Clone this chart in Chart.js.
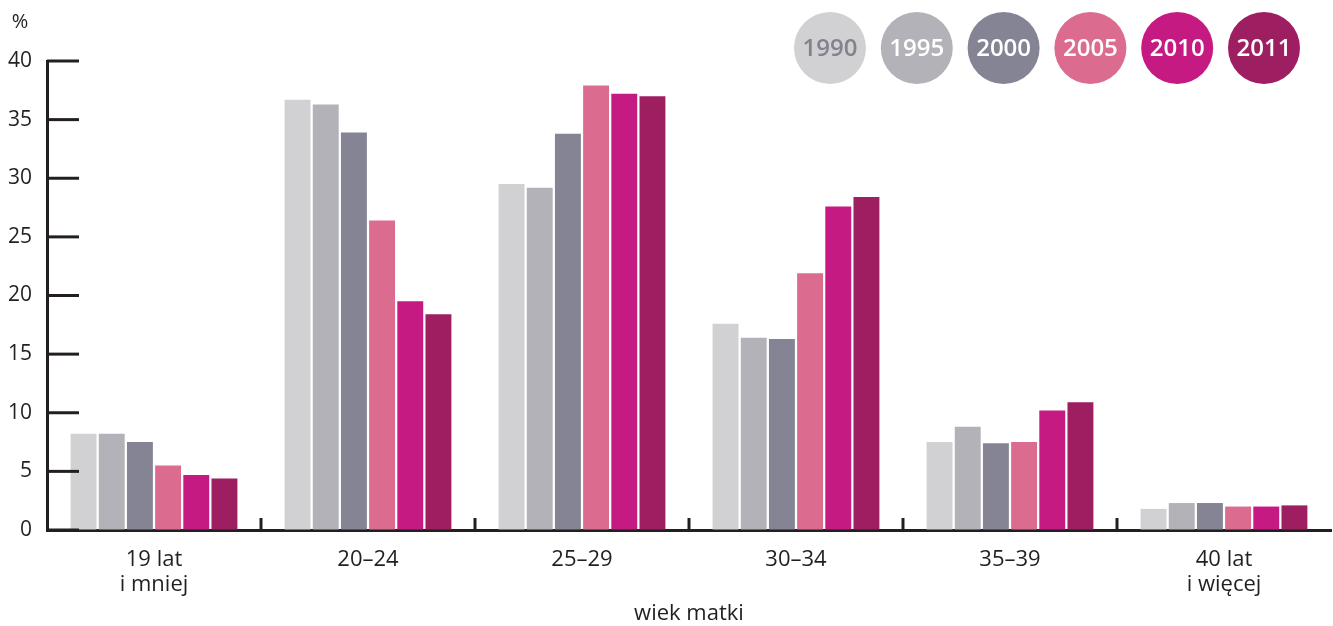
<!DOCTYPE html>
<html>
<head>
<meta charset="utf-8">
<script src="https://cdn.jsdelivr.net/npm/chart.js@4"></script>
<style>
  html, body { margin: 0; padding: 0; background: #fff; }
  #wrap { width: 1333px; height: 626px; position: relative; }
</style>
</head>
<body>
<div id="wrap"><canvas id="chart"></canvas></div>
<script>
// Data
const categories = [['19 lat', 'i mniej'], '20–24', '25–29', '30–34', '35–39', ['40 lat', 'i więcej']];
const years = ['1990', '1995', '2000', '2005', '2010', '2011'];
const v1990 = [8.2, 36.7, 29.5, 17.6, 7.5, 1.8];
const v1995 = [8.2, 36.3, 29.2, 16.4, 8.8, 2.3];
const v2000 = [7.5, 33.9, 33.8, 16.3, 7.4, 2.3];
const v2005 = [5.5, 26.4, 37.9, 21.9, 7.5, 2.0];
const v2010 = [4.7, 19.5, 37.2, 27.6, 10.2, 2.0];
const v2011 = [4.4, 18.4, 37.0, 28.4, 10.9, 2.1];
const yTicks = [0, 5, 10, 15, 20, 25, 30, 35, 40];

const colors = ['#d1d0d3', '#b3b2b8', '#858494', '#dc6c8f', '#c51a82', '#9e1e62'];
const legendText = ['#85828f', '#fff', '#fff', '#fff', '#fff', '#fff'];
const ink = '#231f20';
const font = "'Open Sans', sans-serif";

const series = [v1990, v1995, v2000, v2005, v2010, v2011];

// inward tick marks, % sign and circle legend
const decor = {
  id: 'decor',
  afterDatasetsDraw(chart) {
    const { ctx, chartArea, scales } = chart;
    ctx.save();
    ctx.strokeStyle = ink;
    ctx.lineWidth = 3;
    // y ticks pointing right
    yTicks.forEach(t => {
      const y = scales.y.getPixelForValue(t);
      ctx.beginPath();
      ctx.moveTo(chartArea.left, y);
      ctx.lineTo(chartArea.left + 32, y);
      ctx.stroke();
    });
    // x ticks between categories
    for (let i = 1; i < categories.length; i++) {
      const x = (scales.x.getPixelForValue(i - 1) + scales.x.getPixelForValue(i)) / 2;
      ctx.beginPath();
      ctx.moveTo(x, chartArea.bottom);
      ctx.lineTo(x, chartArea.bottom - 12);
      ctx.stroke();
    }
    // unit
    ctx.fillStyle = ink;
    ctx.font = '20px ' + font;
    ctx.textAlign = 'center';
    ctx.textBaseline = 'middle';
    ctx.fillText('%', 20, 22);
    // legend circles
    chart.data.datasets.forEach((ds, i) => {
      const cx = 830 + i * 86.8, cy = 48;
      ctx.beginPath();
      ctx.arc(cx, cy, 36, 0, Math.PI * 2);
      ctx.fillStyle = ds.backgroundColor;
      ctx.fill();
      ctx.fillStyle = legendText[i];
      ctx.font = '600 24px ' + font;
      ctx.fillText(ds.label, cx, cy + 1);
    });
    ctx.restore();
  }
};

new Chart(document.getElementById('chart'), {
  type: 'bar',
  data: {
    labels: categories,
    datasets: years.map((y, i) => ({
      label: y,
      data: series[i],
      backgroundColor: colors[i],
      categoryPercentage: 0.79,
      barPercentage: 0.92
    }))
  },
  options: {
    responsive: true,
    maintainAspectRatio: false,
    animation: false,
    layout: { padding: { top: 61, right: 2, bottom: 0, left: 0 } },
    plugins: { legend: { display: false }, tooltip: { enabled: false } },
    scales: {
      x: {
        afterFit: s => { s.height = 96; },
        grid: { display: true, drawOnChartArea: false, drawTicks: false },
        border: { display: true, color: ink, width: 3 },
        ticks: { color: ink, font: { family: font, size: 22, lineHeight: 1.15 }, padding: 17, maxRotation: 0 },
        title: { display: true, text: 'wiek matki', color: ink, font: { family: font, size: 22, lineHeight: 1.15 }, padding: 0 }
      },
      y: {
        min: 0,
        max: 40,
        afterFit: s => { s.width = 47; },
        afterBuildTicks: s => { s.ticks = yTicks.map(v => ({ value: v })); },
        grid: { display: true, drawOnChartArea: false, drawTicks: false },
        border: { display: true, color: ink, width: 3 },
        ticks: { color: ink, font: { family: font, size: 21 }, padding: 15 }
      }
    }
  },
  plugins: [decor]
});
</script>
</body>
</html>
